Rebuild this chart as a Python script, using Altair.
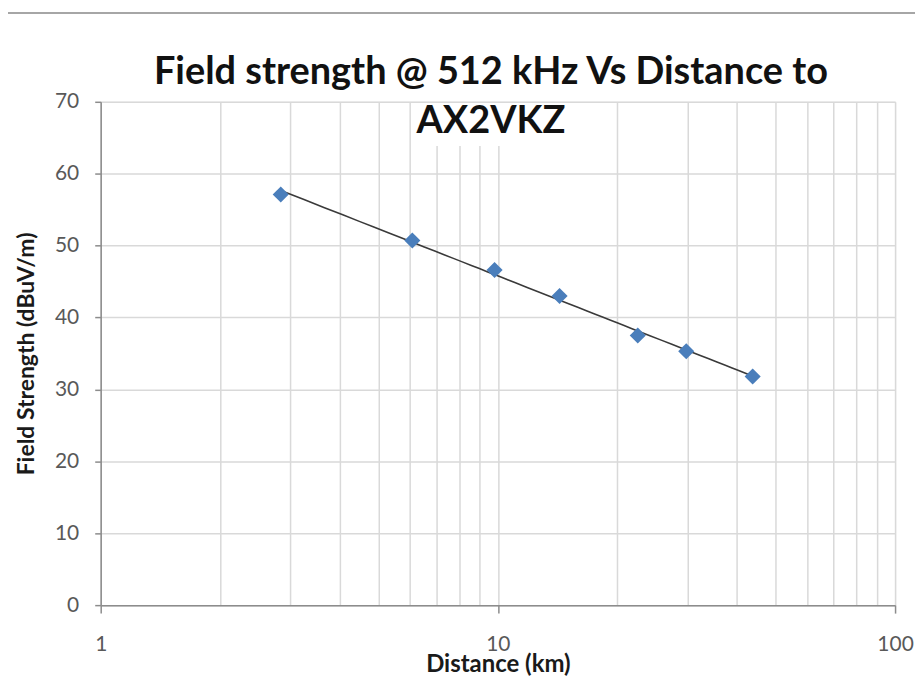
import altair as alt
import pandas as pd

# Data
distance_km = [2.84, 6.09, 9.81, 14.3, 22.5, 29.8, 43.8]
field_dbuv = [57.1, 50.7, 46.6, 43.0, 37.5, 35.3, 31.8]

x_grid_values = [1, 2, 3, 4, 5, 6, 7, 8, 9, 10, 20, 30, 40, 50, 60, 70, 80, 90, 100]
y_tick_values = [0, 10, 20, 30, 40, 50, 60, 70]

title_lines = ["Field strength @ 512 kHz Vs Distance to", "AX2VKZ"]
x_title = "Distance (km)"
y_title = "Field Strength (dBuV/m)"

df = pd.DataFrame({"distance": distance_km, "field": field_dbuv})

FONT = "Lato"
GRID = "#d9d9d9"
AXIS = "#8c8c8c"
LABEL = "#595959"
MARKER = "#4a7ebb"

major = "datum.value == 1 || datum.value == 10 || datum.value == 100"

x_enc = alt.X(
    "distance:Q",
    scale=alt.Scale(type="log", domain=[1, 100], nice=False),
    axis=alt.Axis(
        values=x_grid_values,
        labelExpr=f"({major}) ? datum.label : ''",
        title=x_title,
        grid=True,
        gridColor=GRID,
        gridWidth=1.5,
        domainColor=AXIS,
        domainWidth=1.5,
        tickColor=AXIS,
        tickWidth=1.5,
        tickSize=8,
        tickOpacity={"condition": {"test": major, "value": 1}, "value": 0},
        labelFont=FONT,
        labelFontSize=21,
        labelColor=LABEL,
        labelPadding=21,
        labelFlush=False,
        titleFont=FONT,
        titleFontSize=24,
        titleFontWeight="bold",
        titleColor="#1a1a1a",
        titlePadding=-2,
    ),
)

y_enc = alt.Y(
    "field:Q",
    scale=alt.Scale(domain=[0, 70], nice=False),
    axis=alt.Axis(
        values=y_tick_values,
        title=y_title,
        grid=True,
        gridColor=GRID,
        gridWidth=1.5,
        domainColor=AXIS,
        domainWidth=1.5,
        tickColor=AXIS,
        tickWidth=1.5,
        tickSize=6,
        labelFont=FONT,
        labelFontSize=21,
        labelColor=LABEL,
        labelPadding=16,
        titleFont=FONT,
        titleFontSize=23,
        titleFontWeight="bold",
        titleColor="#1a1a1a",
        titlePadding=16,
    ),
)

base = alt.Chart(df)

frame_top = base.mark_rule(color="#a6a6a6", strokeWidth=2).encode(
    x=alt.value(-94), x2=alt.value(830), y=alt.value(-89)
)
frame_left = base.mark_rule(color="#a6a6a6", strokeWidth=2).encode(
    x=alt.value(-94), y=alt.value(-89), y2=alt.value(600)
)
title_bg = base.mark_rect(color="white").encode(
    x=alt.value(316), x2=alt.value(468), y=alt.value(1.8), y2=alt.value(44)
)

title_text = [
    alt.Chart(pd.DataFrame({"t": [line]}))
    .mark_text(
        font=FONT, fontSize=38, fontWeight="bold", color="#111111",
        align="center", baseline="alphabetic",
    )
    .encode(text="t:N", x=alt.value(391.5), y=alt.value(ypos))
    for line, ypos in zip(title_lines, [-18, 31])
]

trend = (
    base.transform_regression("distance", "field", method="log")
    .mark_line(color="#3a3a3a", strokeWidth=1.6)
    .encode(x=x_enc, y=y_enc)
)

points = base.mark_point(
    shape="diamond", filled=True, size=260, color=MARKER, opacity=1
).encode(x=x_enc, y=y_enc)

chart = (
    alt.layer(frame_top, frame_left, title_bg, trend, points, *title_text)
    .properties(
        width=797,
        height=505,
        autosize=alt.AutoSizeParams(type="none"),
        padding={"left": 93, "top": 93, "right": 20, "bottom": 72},
    )
    .configure_view(stroke=None)
    .configure(background="white")
)

chart.save("out.html", embed_options={"renderer": "svg", "actions": False})
